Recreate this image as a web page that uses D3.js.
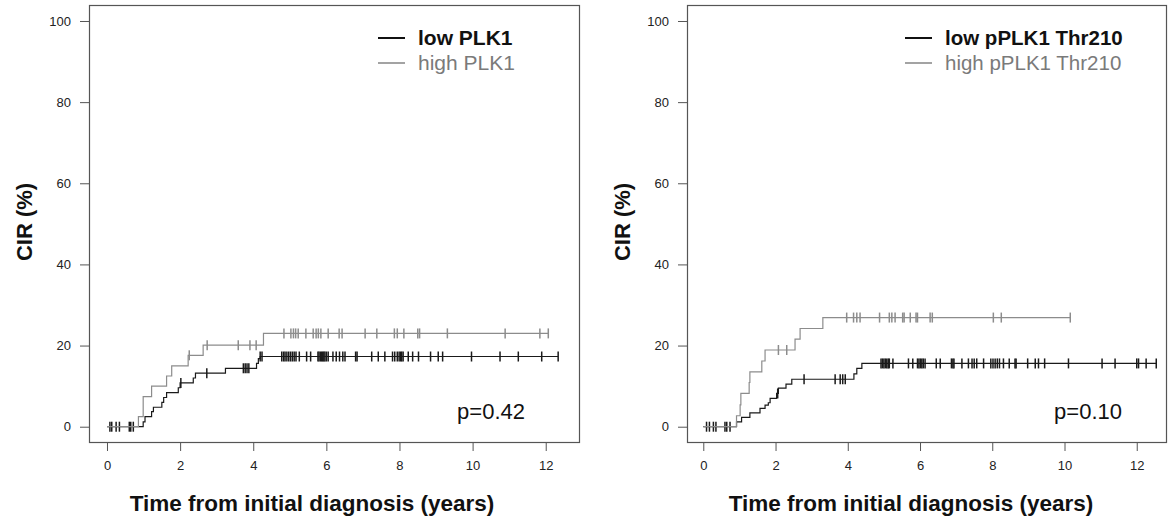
<!DOCTYPE html>
<html>
<head>
<meta charset="utf-8">
<script src="https://cdn.jsdelivr.net/npm/d3@7"></script>
<style>
  body { margin: 0; background: #fff; }
  svg { display: block; font-family: "Liberation Sans", Arial, sans-serif; }
</style>
</head>
<body>
<svg id="chart" width="1169" height="519"></svg>
<script>
// Time in years, CIR in %
const xTicks = [0, 2, 4, 6, 8, 10, 12];
const yTicks = [0, 20, 40, 60, 80, 100];

// Left panel: PLK1
const lowPlk1Events = [[0.99, 1.2], [1.04, 2.5], [1.22, 3.7], [1.27, 4.8], [1.50, 6.0], [1.55, 7.2], [1.63, 8.4],
  [1.95, 9.6], [2.00, 10.8], [2.36, 12.0], [2.42, 13.2], [3.24, 14.4], [4.09, 15.6], [4.14, 16.8], [4.19, 17.3]];
const lowPlk1Censor = [0.08, 0.13, 0.25, 0.34, 0.61, 0.65, 0.72, 2.02, 2.73, 3.73, 3.78, 3.83, 3.88, 4.19, 4.24,
  4.78, 4.83, 4.87, 4.92, 4.97, 5.02, 5.07, 5.12, 5.17, 5.26, 5.46, 5.57, 5.77, 5.80, 5.84, 5.87, 5.90, 5.93,
  5.96, 6.00, 6.05, 6.18, 6.27, 6.36, 6.45, 6.51, 6.80, 6.84, 7.24, 7.42, 7.60, 7.81, 7.87, 7.94, 7.99, 8.03,
  8.06, 8.10, 8.24, 8.36, 8.52, 8.85, 9.06, 9.18, 9.97, 10.75, 11.25, 11.89, 12.34];
const highPlk1Events = [[0.86, 2.5], [0.99, 7.4], [1.22, 10.0], [1.63, 12.5], [1.77, 15.0], [2.22, 17.6],
  [2.63, 20.1], [4.28, 23.0]];
const highPlk1Censor = [2.25, 2.74, 3.59, 3.91, 4.08, 4.84, 5.03, 5.10, 5.16, 5.23, 5.44, 5.64, 5.72, 5.78,
  5.85, 6.05, 6.35, 6.43, 7.06, 7.38, 7.86, 7.94, 8.12, 8.50, 8.55, 9.31, 10.89, 11.84, 12.07];

// Right panel: pPLK1 Thr210
const lowPplk1Events = [[0.92, 1.2], [1.06, 2.3], [1.29, 3.4], [1.57, 4.5], [1.71, 5.3], [1.80, 5.9], [1.85, 7.0],
  [2.03, 8.2], [2.08, 9.5], [2.29, 10.5], [2.45, 11.7], [4.17, 13.0], [4.25, 14.4], [4.39, 15.6]];
const lowPplk1Censor = [0.09, 0.17, 0.28, 0.35, 0.60, 0.65, 0.74, 2.06, 2.79, 3.65, 3.79, 3.86, 3.93, 4.92, 4.96,
  5.00, 5.04, 5.08, 5.12, 5.15, 5.25, 5.68, 5.80, 5.93, 5.97, 6.01, 6.05, 6.09, 6.14, 6.45, 6.56, 6.87, 6.91,
  6.94, 7.16, 7.34, 7.44, 7.50, 7.57, 7.76, 7.96, 8.02, 8.08, 8.14, 8.20, 8.31, 8.47, 8.63, 8.66, 8.98, 9.19,
  9.28, 9.45, 10.11, 11.04, 11.40, 12.00, 12.05, 12.26, 12.54];
const highPplk1Events = [[0.92, 2.7], [1.02, 5.4], [1.04, 8.2], [1.27, 10.9], [1.29, 13.5], [1.62, 16.2],
  [1.71, 18.9], [2.54, 21.6], [2.68, 24.2], [3.31, 26.9]];
const highPplk1Censor = [2.08, 2.31, 3.97, 4.16, 4.25, 4.34, 4.88, 5.15, 5.22, 5.31, 5.52, 5.56, 5.73, 5.89,
  5.93, 6.28, 6.34, 8.03, 8.25, 10.16];

const legendLabels = [["low PLK1", "high PLK1"], ["low pPLK1 Thr210", "high pPLK1 Thr210"]];
const pValues = ["p=0.42", "p=0.10"];

const panels = [
  { left: 89, right: 579, xDomain: [-0.492, 12.91], legendX: 378, legendSize: 21, pX: 525, titleX: 312, yTitleX: 24,
    series: [
      { events: lowPlk1Events, censor: lowPlk1Censor, color: '#1a1a1a' },
      { events: highPlk1Events, censor: highPlk1Censor, color: '#8c8c8c' }
    ], legend: legendLabels[0], p: pValues[0] },
  { left: 687, right: 1166, xDomain: [-0.451, 12.81], legendX: 905, legendSize: 20.5, pX: 1122, titleX: 911, yTitleX: 622,
    series: [
      { events: lowPplk1Events, censor: lowPplk1Censor, color: '#1a1a1a' },
      { events: highPplk1Events, censor: highPplk1Censor, color: '#8c8c8c' }
    ], legend: legendLabels[1], p: pValues[1] }
];

const svg = d3.select('#chart');
const boxTop = 5, boxBottom = 442;

panels.forEach(p => drawPanel(p));

function drawPanel(p) {
  const x = d3.scaleLinear().domain(p.xDomain).range([p.left, p.right]);
  const y = d3.scaleLinear().domain([-3.77, 103.94]).range([boxBottom, boxTop]);
  const g = svg.append('g');

  // Axes
  const xAxis = g.append('g')
    .attr('transform', `translate(0,${boxBottom})`)
    .call(d3.axisBottom(x).tickValues(xTicks).tickSize(9).tickPadding(10));
  const yAxis = g.append('g')
    .attr('transform', `translate(${p.left},0)`)
    .call(d3.axisLeft(y).tickValues(yTicks).tickSize(9).tickPadding(9));
  [xAxis, yAxis].forEach(a => {
    a.select('.domain').remove();
    a.selectAll('line').attr('stroke', '#555');
    a.selectAll('text').attr('font-size', '13px').attr('fill', '#222')
      .attr('font-family', '"Liberation Sans", Arial, sans-serif');
  });

  // Box
  g.append('rect')
    .attr('x', p.left + 0.5).attr('y', boxTop + 0.5)
    .attr('width', p.right - p.left).attr('height', boxBottom - boxTop)
    .attr('fill', 'none').attr('stroke', '#555').attr('stroke-width', 1.2);

  // Curves
  const line = d3.line().x(d => x(d[0])).y(d => y(d[1])).curve(d3.curveStepAfter);
  p.series.forEach(s => {
    const end = d3.max(s.censor);
    const last = s.events[s.events.length - 1][1];
    const pts = [[0, 0], ...s.events, [end, last]];
    g.append('path')
      .attr('d', line(pts))
      .attr('fill', 'none')
      .attr('stroke', s.color)
      .attr('stroke-width', 1.2);

    const valueAt = t => {
      let v = 0;
      s.events.forEach(e => { if (e[0] <= t) v = e[1]; });
      return v;
    };
    g.append('g').selectAll('line')
      .data(s.censor)
      .join('line')
      .attr('x1', d => x(d)).attr('x2', d => x(d))
      .attr('y1', d => y(valueAt(d)) - 5)
      .attr('y2', d => y(valueAt(d)) + 5)
      .attr('stroke', s.color)
      .attr('stroke-width', 1.5);
  });

  // Legend
  const legendColors = ['#111', '#8c8c8c'];
  p.legend.forEach((label, i) => {
    const ly = 38 + i * 25;
    g.append('line')
      .attr('x1', p.legendX).attr('x2', p.legendX + 27)
      .attr('y1', ly).attr('y2', ly)
      .attr('stroke', legendColors[i]).attr('stroke-width', i === 0 ? 2 : 1.6);
    g.append('text')
      .attr('x', p.legendX + 40).attr('y', ly + 7)
      .attr('font-size', p.legendSize + 'px')
      .attr('font-weight', i === 0 ? 'bold' : 'normal')
      .attr('fill', i === 0 ? '#111' : '#7a7a7a')
      .text(label);
  });

  // p-value
  g.append('text')
    .attr('x', p.pX).attr('y', 419)
    .attr('text-anchor', 'end')
    .attr('font-size', '22px')
    .attr('fill', '#111')
    .text(p.p);

  // Axis titles
  g.append('text')
    .attr('x', p.titleX).attr('y', 511)
    .attr('text-anchor', 'middle')
    .attr('font-size', '22.5px').attr('font-weight', 'bold')
    .attr('fill', '#111')
    .text('Time from initial diagnosis (years)');
  g.append('text')
    .attr('transform', `translate(${p.yTitleX + 8},222) rotate(-90)`)
    .attr('text-anchor', 'middle')
    .attr('font-size', '22px').attr('font-weight', 'bold')
    .attr('fill', '#111')
    .text('CIR (%)');
}
</script>
</body>
</html>
